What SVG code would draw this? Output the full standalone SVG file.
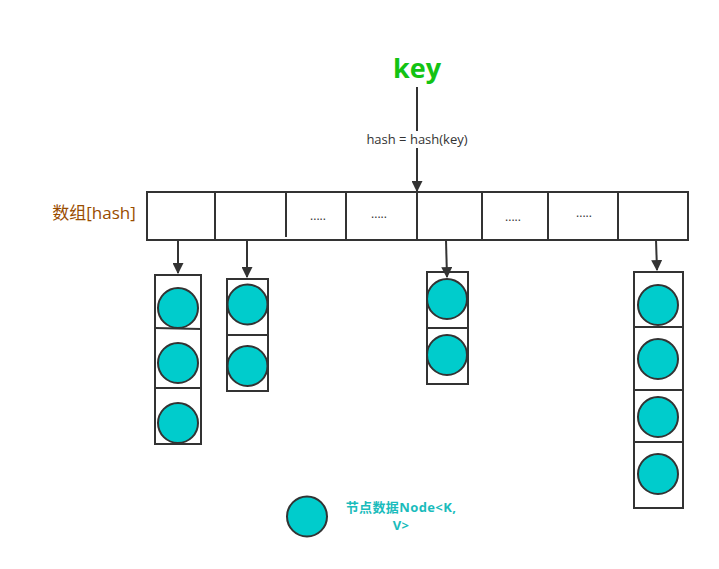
<svg xmlns="http://www.w3.org/2000/svg" width="719" height="569" viewBox="0 0 719 569">
<style>
.box{fill:#fff;stroke:#333;stroke-width:2}
.ln{fill:none;stroke:#333;stroke-width:2}
.node{fill:#00CCCC;stroke:#333;stroke-width:2}
.conn{fill:none;stroke:#333;stroke-width:2;marker-end:url(#ah)}
.dots{font-family:"Open Sans","Liberation Sans",sans-serif;font-size:12px;fill:#333;text-anchor:middle}
.leg{font-family:"Open Sans","Liberation Sans","Noto Sans CJK SC",sans-serif;font-size:13px;font-weight:bold;letter-spacing:0.4px;fill:#1ABCBC;text-anchor:middle}
</style>
<defs>
<marker id="ah" viewBox="0 0 10 10" refX="9" refY="5" markerWidth="5.5" markerHeight="5.5" orient="auto" markerUnits="strokeWidth">
<path d="M0,0 L10,5 L0,10 Z" fill="#333"/>
</marker>
</defs>
<rect width="719" height="569" fill="#fff"/>

<g id="key">
<text x="417" y="78" font-family="'Open Sans','Liberation Sans',sans-serif" font-size="27" font-weight="bold" fill="#13C313" text-anchor="middle">key</text>
</g>

<g id="array">
<rect class="box" x="147" y="192" width="541" height="48"/>
<line class="ln" x1="215" y1="192" x2="215" y2="240"/>
<line class="ln" x1="286" y1="192" x2="286" y2="237"/>
<line class="ln" x1="346" y1="192" x2="346" y2="240"/>
<line class="ln" x1="417" y1="192" x2="417" y2="240"/>
<line class="ln" x1="482" y1="192" x2="482" y2="240"/>
<line class="ln" x1="548" y1="192" x2="548" y2="240"/>
<line class="ln" x1="618" y1="192" x2="618" y2="240"/>
<text class="dots" x="318" y="220">.....</text>
<text class="dots" x="379" y="218">.....</text>
<text class="dots" x="513" y="221">.....</text>
<text class="dots" x="584" y="217">.....</text>
</g>

<g id="array-label">
<text x="94" y="219" font-family="'Open Sans','Liberation Sans','Noto Sans CJK SC',sans-serif" font-size="17" fill="#994C00" text-anchor="middle">数组[hash]</text>
</g>

<g id="bucket1">
<rect class="box" x="155" y="275" width="46" height="169"/>
<line class="ln" x1="155" y1="328" x2="201" y2="329"/>
<line class="ln" x1="155" y1="388" x2="201" y2="388"/>
<circle class="node" cx="178" cy="308" r="20"/>
<circle class="node" cx="178" cy="363" r="20"/>
<circle class="node" cx="178" cy="423" r="20"/>
</g>

<g id="bucket2">
<rect class="box" x="227" y="279" width="41" height="112"/>
<line class="ln" x1="227" y1="335" x2="268" y2="335"/>
<circle class="node" cx="247.5" cy="304.5" r="20"/>
<circle class="node" cx="247.5" cy="366" r="20"/>
</g>

<g id="bucket3">
<rect class="box" x="427" y="272" width="41" height="112"/>
<line class="ln" x1="427" y1="328" x2="468" y2="328"/>
<circle class="node" cx="447" cy="299" r="20"/>
<circle class="node" cx="447" cy="355" r="20"/>
</g>

<g id="bucket4">
<rect class="box" x="634" y="272" width="49" height="236"/>
<line class="ln" x1="634" y1="327" x2="683" y2="327"/>
<line class="ln" x1="634" y1="390" x2="683" y2="390"/>
<line class="ln" x1="634" y1="442" x2="683" y2="442"/>
<circle class="node" cx="658" cy="305" r="20"/>
<circle class="node" cx="658" cy="359" r="20"/>
<circle class="node" cx="658" cy="417" r="20"/>
<circle class="node" cx="658" cy="474" r="20"/>
</g>

<g id="legend">
<circle class="node" cx="307" cy="516.5" r="20"/>
<text class="leg" x="401" y="512">节点数据Node&lt;K,</text>
<text class="leg" x="401" y="530">V&gt;</text>
</g>

<g id="connectors">
<line class="conn" x1="417" y1="87" x2="417" y2="191"/>
<rect x="362" y="131" width="110" height="17" fill="#fff"/>
<text x="417" y="144" font-family="'Open Sans','Liberation Sans',sans-serif" font-size="13" fill="#333" text-anchor="middle">hash = hash(key)</text>
<line class="conn" x1="178" y1="240" x2="178" y2="273"/>
<line class="conn" x1="247" y1="240" x2="247" y2="277"/>
<line class="conn" x1="446" y1="240" x2="447" y2="277"/>
<line class="conn" x1="656" y1="240" x2="657" y2="270"/>
</g>
</svg>
